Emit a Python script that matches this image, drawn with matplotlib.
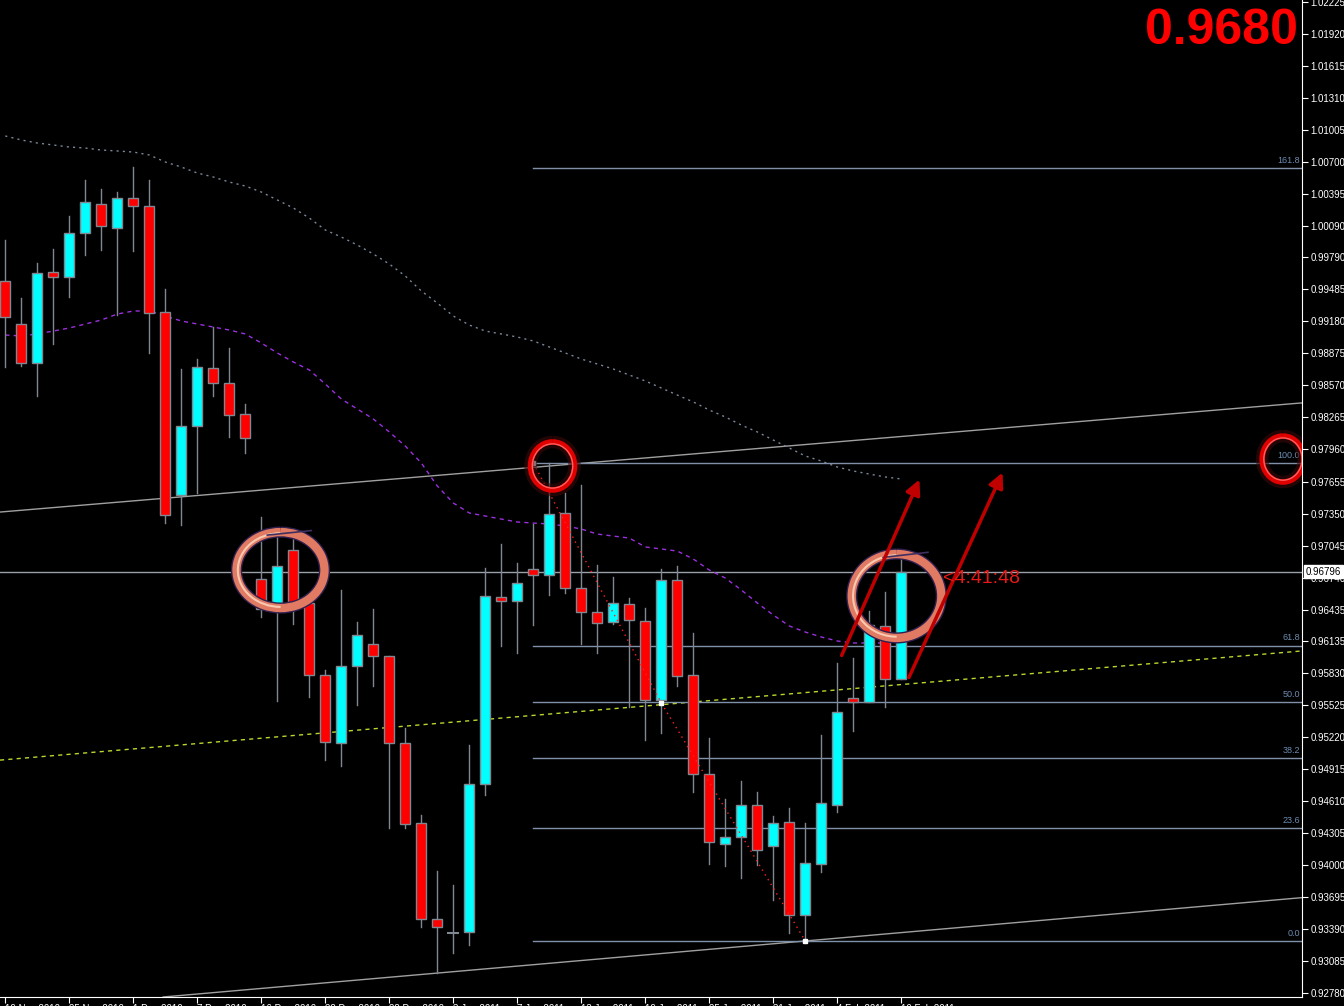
import matplotlib
matplotlib.use("Agg")
import matplotlib.pyplot as plt
import matplotlib.patheffects as pe
from matplotlib.patches import Rectangle, Arc, FancyArrowPatch

plt.rcParams["font.family"] = ["Liberation Sans", "DejaVu Sans"]

# candle data (index 0 = 19 Nov 2010)
opens = [0.99566, 0.99156, 0.98784, 0.99652, 0.99604, 1.00023, 1.00300, 1.00071, 1.00357, 1.00281,
         0.99270, 0.97526, 0.98184, 0.98737, 0.98594, 0.98298, 0.96726, 0.96440, 0.97002, 0.96497,
         0.95811, 0.95163, 0.95896, 0.96106, 0.95992, 0.95163, 0.94400, 0.93485, 0.93352, 0.93361,
         0.94772, 0.96555, 0.96516, 0.96821, 0.96764, 0.97355, 0.96640, 0.96411, 0.96316, 0.96487,
         0.96325, 0.95572, 0.96716, 0.95811, 0.94867, 0.94200, 0.94267, 0.94572, 0.94181, 0.94410,
         0.93523, 0.94009, 0.94572, 0.95591, 0.95553, 0.96278, 0.95773]
highs = [0.99957, 0.99404, 0.99737, 0.99871, 1.00185, 1.00528, 1.00443, 1.00414, 1.00652, 1.00528,
         0.99490, 0.98727, 0.98822, 0.99127, 0.98927, 0.98394, 0.97317, 0.97183, 0.97183, 0.96506,
         0.95858, 0.96621, 0.96316, 0.96440, 0.95992, 0.95305, 0.94476, 0.93943, 0.93809, 0.95143,
         0.96830, 0.97059, 0.96878, 0.97250, 0.97831, 0.97545, 0.97622, 0.96859, 0.96745, 0.96545,
         0.96449, 0.96821, 0.96850, 0.96211, 0.95210, 0.94629, 0.94800, 0.94695, 0.94467, 0.94543,
         0.94400, 0.95239, 0.95925, 0.95973, 0.96421, 0.96602, 0.96954]
lows = [0.98746, 0.98756, 0.98470, 0.98965, 0.99413, 0.99814, 0.99861, 0.99242, 0.99852, 0.98880,
        0.97259, 0.97240, 0.97545, 0.98470, 0.98079, 0.97927, 0.96363, 0.95563, 0.96297, 0.95601,
        0.95000, 0.94943, 0.95525, 0.95706, 0.94352, 0.94352, 0.93409, 0.92970, 0.93161, 0.93237,
        0.94667, 0.96087, 0.96020, 0.96287, 0.96573, 0.96592, 0.96106, 0.96020, 0.96297, 0.95506,
        0.95191, 0.95258, 0.95706, 0.94695, 0.94009, 0.93990, 0.93876, 0.94000, 0.93666, 0.93352,
        0.93276, 0.93933, 0.94505, 0.95277, 0.95553, 0.95506, 0.95773]
closes = [0.99223, 0.98784, 0.99642, 0.99604, 1.00023, 1.00319, 1.00090, 1.00357, 1.00281, 0.99261,
          0.97336, 0.98184, 0.98746, 0.98594, 0.98289, 0.98069, 0.96440, 0.96850, 0.96487, 0.95811,
          0.95172, 0.95896, 0.96192, 0.95992, 0.95163, 0.94391, 0.93485, 0.93409, 0.93352, 0.94772,
          0.96564, 0.96516, 0.96687, 0.96764, 0.97345, 0.96640, 0.96411, 0.96306, 0.96497, 0.96335,
          0.95572, 0.96716, 0.95801, 0.94867, 0.94219, 0.94267, 0.94572, 0.94143, 0.94400, 0.93523,
          0.94019, 0.94591, 0.95458, 0.95553, 0.96287, 0.95773, 0.96796]

# moving averages
ma_slow = [1.00948, 1.00910, 1.00881, 1.00862, 1.00843, 1.00833, 1.00814, 1.00805, 1.00795, 1.00767,
           1.00700, 1.00652, 1.00595, 1.00557, 1.00509, 1.00471, 1.00414, 1.00338, 1.00262, 1.00166,
           1.00052, 0.99985, 0.99909, 0.99823, 0.99728, 0.99613, 0.99471, 0.99356, 0.99232, 0.99146,
           0.99089, 0.99061, 0.99032, 0.98994, 0.98937, 0.98880, 0.98822, 0.98775, 0.98727, 0.98670,
           0.98613, 0.98546, 0.98479, 0.98413, 0.98336, 0.98270, 0.98193, 0.98127, 0.98050, 0.97974,
           0.97898, 0.97850, 0.97793, 0.97755, 0.97726, 0.97698, 0.97679]
ma_fast = [0.99051, 0.99042, 0.99061, 0.99089, 0.99118, 0.99156, 0.99194, 0.99251, 0.99280, 0.99280,
           0.99232, 0.99185, 0.99156, 0.99127, 0.99099, 0.99061, 0.98975, 0.98880, 0.98794, 0.98718,
           0.98584, 0.98441, 0.98346, 0.98251, 0.98127, 0.97993, 0.97831, 0.97612, 0.97450, 0.97355,
           0.97326, 0.97297, 0.97269, 0.97259, 0.97250, 0.97231, 0.97202, 0.97154, 0.97135, 0.97116,
           0.97031, 0.97012, 0.96992, 0.96916, 0.96811, 0.96735, 0.96621, 0.96497, 0.96382, 0.96278,
           0.96220, 0.96173, 0.96135, 0.96116, 0.96116, 0.96116, 0.96125]

date_idx = [0, 4, 8, 12, 16, 20, 24, 28, 32, 36, 40, 44, 48, 52, 56]
date_labels = ["19 Nov 2010", "25 Nov 2010", "1 Dec 2010", "7 Dec 2010", "16 Dec 2010",
               "22 Dec 2010", "28 Dec 2010", "3 Jan 2011", "7 Jan 2011", "13 Jan 2011",
               "19 Jan 2011", "25 Jan 2011", "31 Jan 2011", "4 Feb 2011", "10 Feb 2011"]
price_ticks = [1.02225, 1.01920, 1.01615, 1.01310, 1.01005, 1.00700, 1.00395, 1.00090, 0.99790,
               0.99485, 0.99180, 0.98875, 0.98570, 0.98265, 0.97960, 0.97655, 0.97350, 0.97045,
               0.96740, 0.96435, 0.96135, 0.95830, 0.95525, 0.95220, 0.94915, 0.94610, 0.94305,
               0.94000, 0.93695, 0.93390, 0.93085, 0.92780]

# trend lines: (index, price) anchor pairs
upper_line = [(0, 0.97368), (56, 0.98084)]
lower_line = [(27, 0.92970), (50, 0.93276)]
mid_line = [(0, 0.95004), (56, 0.95720)]

# fibonacci retracement
fib_start = 33
fib_high = 0.97831
fib_low = 0.93276
fib_levels = [0.0, 23.6, 38.2, 50.0, 61.8, 100.0, 161.8]
zigzag_idx = [33, 41, 50]
zigzag_price = [0.97831, 0.95544, 0.93276]

last_price = 0.96796

BULL = "#00ffff"
BEAR = "#ff0000"
EDGE = "#7f8791"

fig = plt.figure(figsize=(13.44, 10.06), dpi=100, facecolor="black")
ax = fig.add_axes([0, 9 / 1006, 1302 / 1344, 997 / 1006])
ax.set_facecolor("black")
ax.set_xlim(-0.331, 81.04)
ax.set_ylim(0.92742, 1.02244)

# trend lines
ax.axline(upper_line[0], upper_line[1], color="#a0a0a0", lw=1, zorder=2)
ax.axline(lower_line[0], lower_line[1], color="#a0a0a0", lw=1, zorder=2)
ax.axline(mid_line[0], mid_line[1], color="#b8d82c", lw=1, dashes=(3, 3), zorder=2)

# current price line
ax.axhline(last_price, color="#9aa0a8", lw=1, zorder=2)

# fib lines
rng = fib_high - fib_low
for lv in fib_levels:
    y = fib_low + rng * lv / 100
    ax.plot([fib_start, 81.04], [y, y], color="#8090a8", lw=1, zorder=2)
    ax.text(80.9, y + 0.0003, f"{lv:.1f}", color="#6d8cb0", fontsize=6.5,
            ha="right", va="bottom", zorder=3)

# moving averages
idx = list(range(len(ma_slow)))
ax.plot(idx, ma_slow, color="#7b8898", lw=1, dashes=(1.5, 3), zorder=2)
ax.plot(idx, ma_fast, color="#9b30e0", lw=1, dashes=(3, 3), zorder=2)

# candles
w = 0.62
for i in range(len(opens)):
    o, h, l, c = opens[i], highs[i], lows[i], closes[i]
    ax.plot([i, i], [l, h], color=EDGE, lw=1, zorder=4)
    if abs(c - o) < 1e-6:
        ax.plot([i - w / 2, i + w / 2], [o, o], color=EDGE, lw=1.5, zorder=5)
        continue
    col = BULL if c > o else BEAR
    ax.add_patch(Rectangle((i - w / 2, min(o, c)), w, abs(c - o), facecolor=col,
                           edgecolor=EDGE, lw=1, zorder=5))

# zigzag
ax.plot(zigzag_idx, zigzag_price, color="#ff2020", lw=1, dashes=(1, 3), zorder=6)
ax.plot(zigzag_idx, zigzag_price, ls="none", marker="s", ms=3, color="white", zorder=6)

# annotations: glossy rings
glow = [pe.Stroke(linewidth=9, foreground="#3a0a0a", alpha=0.6), pe.Normal()]
for cx, cy, ew, eh in [(34.2, 0.97803, 2.75, 0.00458), (79.85, 0.97869, 2.6, 0.00438)]:
    a = Arc((cx, cy), ew, eh, theta1=120, theta2=95, color="#e00000", lw=4, zorder=8)
    a.set_path_effects(glow)
    ax.add_patch(a)
    ax.add_patch(Arc((cx, cy), ew * 0.92, eh * 0.92, theta1=150, theta2=60,
                     color="#ff6060", lw=1, zorder=9))

for cx, cy, ew, eh in [(17.2, 0.96811, 5.5, 0.00724), (55.7, 0.96564, 5.6, 0.0080)]:
    a = Arc((cx, cy), ew, eh, theta1=70, theta2=30, color="#e07a62", lw=6, zorder=8)
    a.set_path_effects([pe.Stroke(linewidth=8, foreground="#302050"), pe.Normal()])
    ax.add_patch(a)
    ax.add_patch(Arc((cx, cy), ew * 0.97, eh * 0.97, theta1=150, theta2=330,
                     color="#f8c8b0", lw=1.5, zorder=9))
    ax.plot([cx - ew * 0.15, cx + ew * 0.35], [cy + eh * 0.46, cy + eh * 0.52],
            color="#403060", lw=1.2, zorder=9)

# arrows
for (x0, y0), (x1, y1) in [((52.2, 0.95973), (57.2, 0.97698)),
                           ((56.4, 0.95763), (62.4, 0.97764))]:
    ax.add_patch(FancyArrowPatch((x0, y0), (x1, y1), arrowstyle="-|>", mutation_scale=22,
                                 color="#c00000", lw=2.5, zorder=10))

ax.text(58.6, 0.96735, "<4:41:48", color="#e81818", fontsize=14, ha="left",
        va="center", zorder=10)

# axes styling
for s in ["left", "top"]:
    ax.spines[s].set_visible(False)
for s in ["right", "bottom"]:
    ax.spines[s].set_color("white")
ax.yaxis.tick_right()
ax.set_yticks(price_ticks)
ax.set_yticklabels([f"{p:.5f}" for p in price_ticks])
ax.set_xticks(date_idx)
ax.set_xticklabels(date_labels, ha="left")
ax.tick_params(axis="y", colors="white", labelsize=7, length=4, pad=2)
ax.tick_params(axis="x", colors="white", labelsize=7, length=4, pad=1)

ax.text(1.003, last_price, f"{last_price:.5f}", transform=ax.get_yaxis_transform(),
        color="black", fontsize=7, va="center", ha="left", zorder=12, clip_on=False,
        bbox=dict(boxstyle="square,pad=0.15", facecolor="white", edgecolor="white"))

fig.text(1298 / 1344, 1 - 31 / 1006, "0.9680", color="#ff0000", fontsize=36,
         fontweight="bold", ha="right", va="center")

fig.savefig("out.png", dpi=100, facecolor="black")
